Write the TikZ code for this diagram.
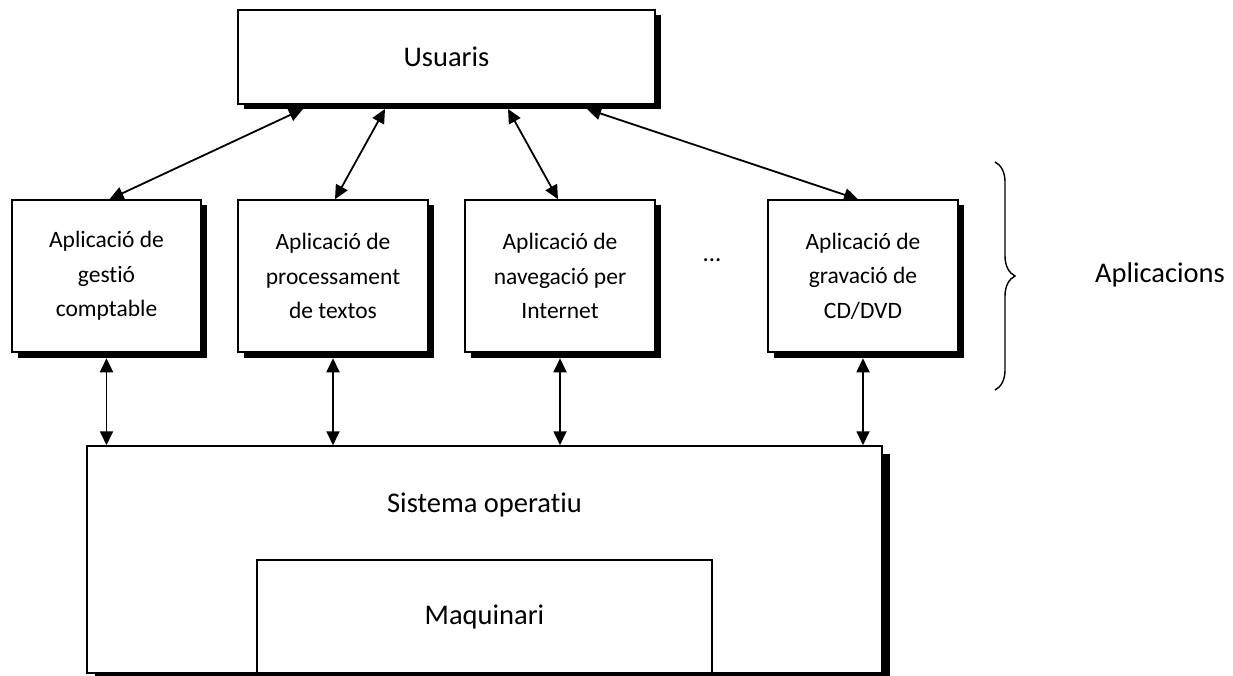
\documentclass[tikz,border=0pt]{standalone}
\usepackage{fontspec}
\setmainfont{Carlito}[Ligatures=NoCommon]
\usetikzlibrary{arrows.meta,shadows,decorations.pathreplacing,calc}
\begin{document}
\begin{tikzpicture}[x=1pt,y=-1pt,
  box/.style={draw=black,line width=1.5pt,fill=white,rectangle,inner sep=0pt},
  shad/.style={drop shadow={shadow xshift=5.5pt,shadow yshift=-5.5pt,fill=black,opacity=1}},
  bigshad/.style={drop shadow={shadow xshift=8pt,shadow yshift=-8pt,fill=black,opacity=1}},
  appbox/.style={box,shad,minimum width=190pt,minimum height=152pt,align=center,
    font=\fontsize{23.5}{34.5}\selectfont},
  mainfont/.style={font=\fontsize{28.5}{34}\selectfont},
  arr/.style={line width=1.8pt,{Triangle[length=14pt,width=13pt]}-{Triangle[length=14pt,width=13pt]}}
]
\useasboundingbox (0,0) rectangle (1233,676);
% Users
\node[box,shad,mainfont,minimum width=417pt,minimum height=94pt] (usr) at (446.5,57) {Usuaris};
% Applications
\node[appbox,minimum width=189pt] (b1) at (106.5,276) {Aplicació de\\gestió\\comptable};
\node[appbox] (b2) at (333,276) {Aplicació de\\processament\\de textos};
\node[appbox] (b3) at (560,276) {Aplicació de\\navegació per\\Internet};
\node[appbox] (b4) at (863,276) {Aplicació de\\gravació de\\CD/DVD};
\node[font=\fontsize{25}{33}\selectfont] (dots) at (712,260) {...};
% Operating system and hardware
\node[box,bigshad,minimum width=795pt,minimum height=227pt] (so) at (484.5,559.5) {};
\node[mainfont] (sotxt) at (484.5,505) {Sistema operatiu};
\node[box,mainfont,minimum width=455pt,minimum height=113pt] (maq) at (484.5,616.5) {Maquinari};
% Brace and label
\coordinate (brtop) at (995,162);
\coordinate (brbot) at (995,390);
\draw[line width=1.4pt,decoration={brace,amplitude=20pt},decorate] (brtop) -- (brbot);
\node[mainfont] (apl) at (1160,275) {Aplicacions};
% Arrows users <-> applications
\coordinate (u1) at (303,109);
\coordinate (u2) at (385,109);
\coordinate (u3) at (508,109);
\coordinate (u4) at (587,109);
\draw[arr] (u1) -- ([xshift=3pt]b1.north);
\draw[arr] (u2) -- ([xshift=2pt]b2.north);
\draw[arr] (u3) -- ([xshift=-2pt]b3.north);
\draw[arr] (u4) -- ([xshift=-5pt]b4.north);
% Arrows applications <-> OS
\foreach \b in {b1,b2,b3,b4}{
  \draw[arr] ([yshift=-5.5pt]\b.south) -- (\b.south |- so.north);
}
\end{tikzpicture}
\end{document}
